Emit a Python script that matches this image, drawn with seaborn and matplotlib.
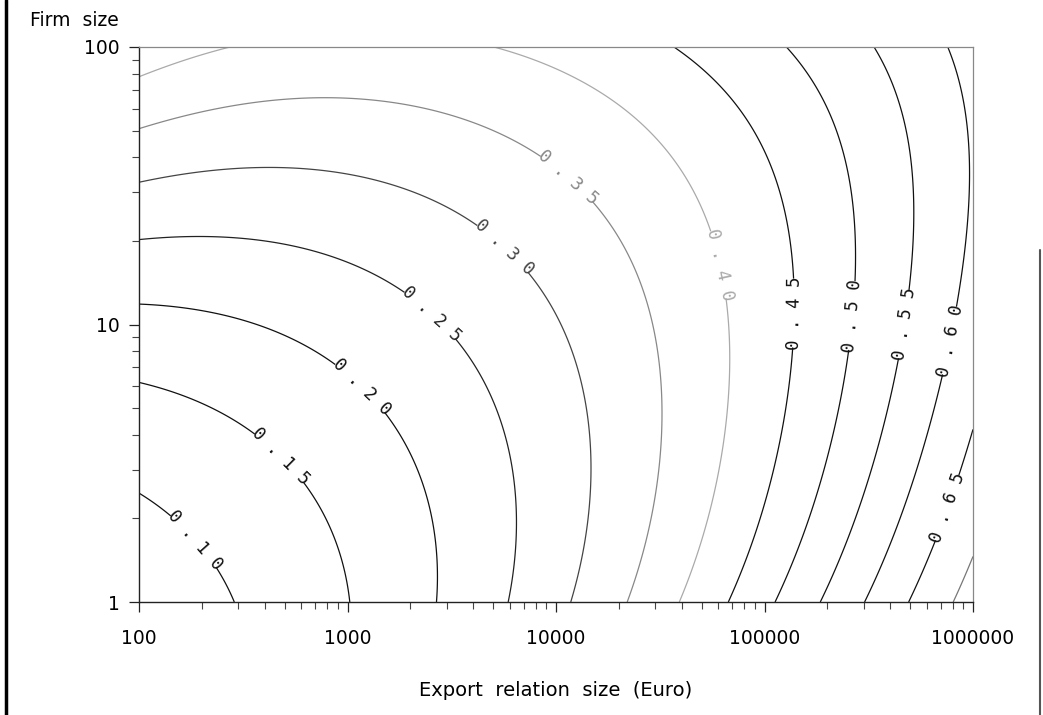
import numpy as np
import matplotlib
matplotlib.use("Agg")
import matplotlib.pyplot as plt
import seaborn as sns
from matplotlib.lines import Line2D
from matplotlib.ticker import LogLocator, NullFormatter, FixedLocator, FixedFormatter

# contour levels shown in the chart
levels = [0.10, 0.15, 0.20, 0.25, 0.30, 0.35, 0.40, 0.45, 0.50, 0.55, 0.60, 0.65, 0.70]

# points: export relation size (Euro), firm size
c10_x = [100, 133, 186, 273, 294]
c10_y = [2.4, 2.18, 1.67, 1.18, 1.0]
c15_x = [100, 196, 501, 887, 951, 984]
c15_y = [5.84, 5.33, 3.46, 1.67, 1.38, 1.0]
c20_x = [100, 340, 1280, 2230, 2630, 2510]
c20_y = [11.5, 9.9, 6.4, 3.5, 1.67, 1.0]
c25_x = [100, 590, 2690, 4820, 6220, 5640]
c25_y = [20.4, 18.5, 11.5, 5.3, 1.67, 1.0]
c30_x = [100, 820, 6080, 11670, 13490, 11380]
c30_y = [33.5, 31.5, 20.2, 9.5, 1.67, 1.0]
c35_x = [100, 820, 4320, 11940, 25300, 26250, 22100]
c35_y = [52.8, 65, 54.6, 35.2, 9.5, 1.67, 1.0]
c40_x = [100, 189, 348, 5380, 12620, 25300, 57900, 61200, 49100, 40400]
c40_y = [82, 88, 99, 99.5, 78.7, 55, 16.3, 5.3, 1.67, 1.0]
c45_x = [39400, 54800, 80500, 118600, 134900, 137000, 125300, 85100, 69500]
c45_y = [99, 80, 55, 27.9, 16.7, 11.0, 5.3, 1.67, 1.0]
c50_x = [130000, 206000, 261800, 271500, 251400, 231000, 153500, 117800]
c50_y = [99, 55, 27.9, 14.8, 10.8, 5.3, 1.67, 1.0]
c55_x = [338800, 446700, 515400, 508200, 472000, 400000, 257000, 195900]
c55_y = [99, 55, 27.9, 14.4, 10.5, 4.5, 1.67, 1.0]
c60_x = [762000, 916000, 968000, 883000, 776000, 589000, 415000, 311000]
c60_y = [99, 55, 27.9, 12.7, 7.7, 3.5, 1.67, 1.0]
c65_x = [494000, 598000, 695000, 1000000]
c65_y = [1.0, 1.38, 2.23, 3.8]
c70_x = [764000, 1000000]
c70_y = [1.0, 1.58]

contour_x = [c10_x, c15_x, c20_x, c25_x, c30_x, c35_x, c40_x,
             c45_x, c50_x, c55_x, c60_x, c65_x, c70_x]
contour_y = [c10_y, c15_y, c20_y, c25_y, c30_y, c35_y, c40_y,
             c45_y, c50_y, c55_y, c60_y, c65_y, c70_y]

x_ticks = [100, 1000, 10000, 100000, 1000000]
y_ticks = [1, 10, 100]

# where the labels sit on each line
label_pos = [(186, 1.67), (501, 3.46), (1280, 6.4), (2690, 11.5), (6080, 20.2),
             (11940, 35.2), (57900, 16.3), (137000, 11.0), (251000, 10.8),
             (472000, 10.0), (800000, 8.7), (695000, 2.23)]

line_colors = ['#111111', '#111111', '#111111', '#222222', '#444444', '#888888',
               '#aaaaaa', '#111111', '#111111', '#111111', '#111111', '#111111',
               '#777777']


def terms(u, v):
    u = (u - 4) / 2
    v = v - 1
    out = []
    for d in range(5):
        for i in range(d + 1):
            out.append(u ** (d - i) * v ** i + 0 * u)
    return out


# smooth surface (logit scale) through the traced contour points
u_pts = np.concatenate([np.log10(x) for x in contour_x])
v_pts = np.concatenate([np.log10(y) for y in contour_y])
z_pts = np.concatenate([np.full(len(x), lv) for x, lv in zip(contour_x, levels)])
z_pts = np.log(z_pts / (1 - z_pts))
A = np.column_stack(terms(u_pts, v_pts))
coef, *_ = np.linalg.lstsq(A, z_pts, rcond=None)

U, V = np.meshgrid(np.linspace(2, 6, 500), np.linspace(0, 2, 300))
F = sum(c * t for c, t in zip(coef, terms(U, V)))
P = 1 / (1 + np.exp(-F))

sns.set_style("ticks")
plt.rcParams['font.family'] = ['DejaVu Sans']

fig = plt.figure(figsize=(10.43, 7.15), dpi=100)
ax = fig.add_axes([139 / 1043, 1 - 602 / 715, 834 / 1043, 555 / 715])
ax.set_xscale('log')
ax.set_yscale('log')
ax.set_xlim(100, 1000000)
ax.set_ylim(1, 100)

cs = ax.contour(10 ** U, 10 ** V, P, levels=levels, colors=line_colors, linewidths=0.9)
ax.clabel(cs, levels=levels[:-1], inline=True, inline_spacing=7,
          fmt=lambda v: " ".join(f"{v:.2f}"), fontsize=12.5,
          manual=label_pos)
for t in cs.labelTexts:
    t.set_fontfamily('DejaVu Sans Mono')

ax.xaxis.set_major_locator(FixedLocator(x_ticks))
ax.xaxis.set_major_formatter(FixedFormatter([str(t) for t in x_ticks]))
ax.yaxis.set_major_locator(FixedLocator(y_ticks))
ax.yaxis.set_major_formatter(FixedFormatter([str(t) for t in y_ticks]))
ax.xaxis.set_minor_locator(LogLocator(base=10, subs=np.arange(2, 10)))
ax.yaxis.set_minor_locator(LogLocator(base=10, subs=np.arange(2, 10)))
ax.xaxis.set_minor_formatter(NullFormatter())
ax.yaxis.set_minor_formatter(NullFormatter())
ax.tick_params(which='major', direction='out', length=7.5, width=0.9, labelsize=13.5,
               color='#222222', labelcolor='black')
ax.tick_params(which='minor', direction='out', length=5, width=0.8, color='#444444')
ax.tick_params(axis='x', which='major', pad=12)
ax.tick_params(axis='y', which='major', pad=6.5)

for side in ['left', 'bottom']:
    ax.spines[side].set_color('#222222')
    ax.spines[side].set_linewidth(1.0)
for side in ['top', 'right']:
    ax.spines[side].set_color('#888888')
    ax.spines[side].set_linewidth(0.9)

fig.text(556 / 1043, 1 - 690 / 715, "Export  relation  size  (Euro)", fontsize=14,
         ha='center', va='center', color='black')
fig.text(30 / 1043, 1 - 20 / 715, "Firm  size", fontsize=13.5, ha='left', va='center',
         color='black')

# frame of the scanned page
fig.add_artist(Line2D([6 / 1043, 6 / 1043], [0, 1], color='black', lw=2.5))
fig.add_artist(Line2D([1040 / 1043, 1040 / 1043], [0, 1 - 250 / 715], color='#555555', lw=1.5))

fig.savefig("out.png", dpi=100)
